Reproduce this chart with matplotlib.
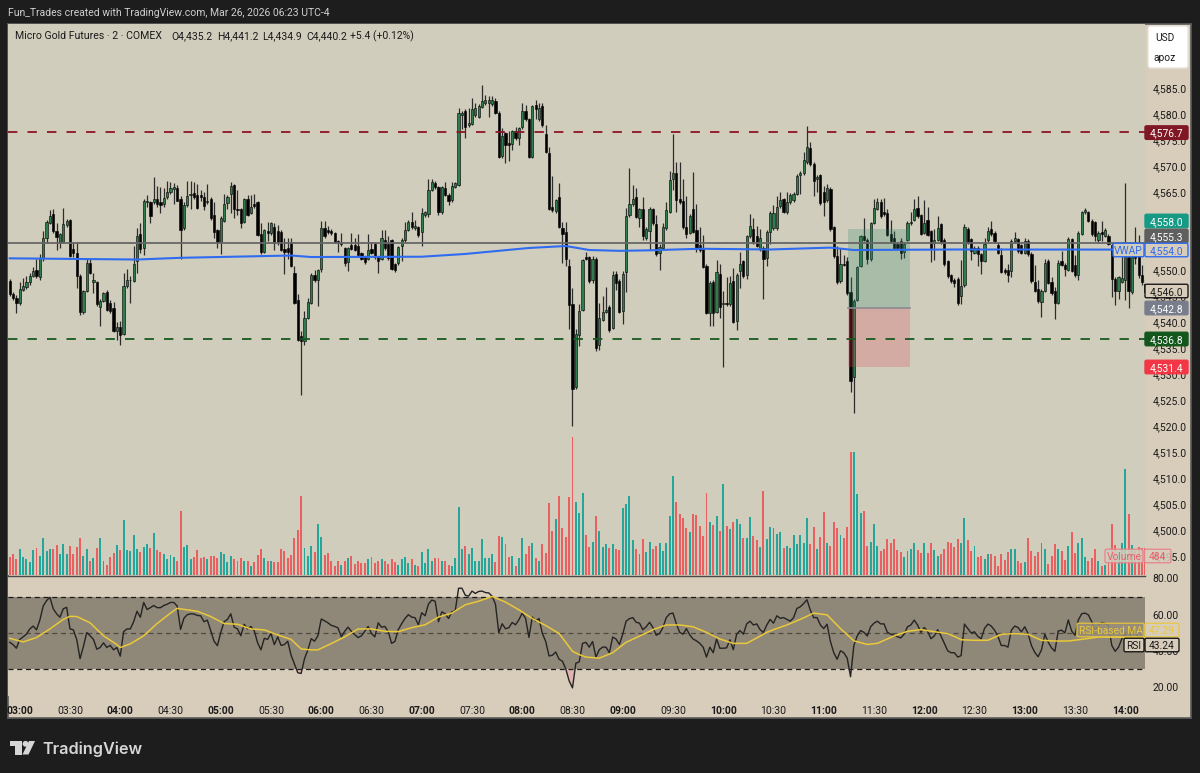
import numpy as np
import matplotlib
matplotlib.use("Agg")
import matplotlib.pyplot as plt
from matplotlib.patches import FancyBboxPatch, Polygon, Circle

plt.rcParams["font.family"] = ["Roboto", "DejaVu Sans"]

# Candle values, two minute bars
opens = [
    4547.7,4545.2,4544.5,4543.5,4546.0,4546.6,4547.6,4548.6,4549.9,4548.5,
    4552.1,4556.0,4558.9,4560.6,4557.3,4555.2,4555.2,4558.4,4559.4,4553.8,
    4553.0,4548.6,4541.7,4545.8,4551.2,4547.6,4547.5,4542.7,4543.9,4545.6,
    4543.5,4542.6,4538.1,4538.8,4537.6,4546.7,4547.8,4547.7,4551.6,4556.7,
    4554.0,4562.8,4562.8,4562.8,4563.5,4562.8,4562.5,4563.8,4564.9,4565.4,
    4565.5,4563.5,4557.8,4562.3,4564.2,4564.7,4564.2,4564.2,4563.8,4562.8,
    4563.4,4560.4,4557.5,4555.2,4559.2,4562.7,4564.5,4566.1,4561.6,4561.5,
    4559.1,4563.5,4560.8,4562.5,4562.8,4556.7,4553.2,4557.3,4556.9,4558.1,
    4557.3,4557.1,4553.8,4554.0,4555.0,4549.3,4544.0,4537.1,4536.1,4540.6,
    4543.5,4548.9,4547.9,4550.1,4557.9,4557.5,4557.4,4556.9,4555.4,4554.8,
    4554.0,4551.3,4554.7,4554.7,4554.4,4553.0,4552.3,4552.0,4553.9,4554.8,
    4552.3,4552.0,4555.5,4554.8,4555.5,4551.0,4551.1,4554.4,4555.5,4557.6,
    4559.1,4557.8,4558.0,4557.1,4560.4,4560.5,4565.2,4566.6,4565.8,4560.9,
    4565.5,4564.3,4563.2,4565.8,4566.2,4579.6,4580.4,4577.7,4577.9,4579.6,
    4579.2,4581.1,4581.9,4581.9,4581.7,4582.3,4580.0,4571.7,4576.1,4574.2,
    4574.0,4576.5,4575.2,4577.3,4580.3,4578.8,4571.6,4581.5,4578.8,4581.3,
    4575.9,4572.3,4562.0,4561.1,4563.9,4557.8,4557.2,4550.6,4543.3,4527.3,
    4537.4,4542.2,4552.3,4552.3,4547.9,4552.0,4535.4,4540.2,4541.8,4542.7,
    4538.7,4549.1,4547.7,4542.0,4549.4,4560.3,4562.5,4563.8,4559.8,4561.5,
    4555.9,4557.3,4561.5,4558.6,4553.0,4554.1,4557.9,4561.0,4567.3,4568.4,
    4563.4,4563.0,4558.0,4557.0,4561.6,4557.5,4554.6,4553.8,4550.6,4541.6,
    4547.5,4541.8,4549.1,4543.2,4543.4,4543.2,4547.7,4540.1,4549.6,4551.5,
    4548.8,4556.3,4557.7,4556.3,4553.8,4554.1,4552.2,4557.2,4557.9,4557.9,
    4562.1,4563.4,4560.9,4562.9,4563.2,4564.5,4568.0,4568.4,4570.5,4573.2,
    4570.2,4567.3,4568.0,4564.8,4563.2,4565.4,4558.0,4552.5,4547.7,4551.0,
    4551.5,4545.6,4529.2,4544.1,4550.6,4556.3,4555.6,4552.0,4558.9,4561.6,
    4562.9,4561.0,4560.8,4556.8,4555.9,4554.8,4555.3,4553.2,4555.6,4558.8,
    4559.5,4561.8,4560.3,4557.0,4559.5,4557.3,4555.0,4555.6,4558.6,4555.6,
    4551.5,4548.8,4547.9,4548.1,4544.8,4546.9,4557.7,4555.7,4553.1,4554.1,
    4552.8,4551.6,4555.5,4557.7,4557.0,4554.7,4552.7,4549.9,4549.9,4549.7,
    4555.3,4555.7,4554.6,4553.1,4555.4,4552.9,4547.6,4546.1,4543.7,4545.8,
    4551.5,4547.6,4545.8,4543.5,4551.5,4550.8,4549.9,4555.7,4550.8,4548.9,
    4556.8,4560.9,4560.9,4559.3,4559.0,4555.5,4557.2,4556.4,4556.4,4554.7,
    4548.1,4545.8,4547.6,4547.9,4552.3,4545.5,4552.5,4553.7,4548.8,4547.2,
]
closes = [
    4545.2,4544.5,4543.5,4546.1,4546.7,4547.6,4548.7,4549.6,4548.6,4552.1,
    4556.0,4559.1,4560.2,4557.3,4556.2,4556.7,4558.6,4559.3,4552.5,4553.1,
    4548.7,4541.7,4545.8,4551.2,4549.3,4547.8,4543.2,4543.9,4545.4,4542.2,
    4541.9,4538.1,4538.8,4537.4,4546.7,4547.8,4547.9,4551.0,4556.4,4553.9,
    4563.1,4563.1,4560.2,4563.5,4562.5,4562.3,4563.6,4564.9,4565.5,4565.7,
    4563.1,4557.5,4562.3,4564.0,4564.5,4563.8,4561.8,4563.8,4562.1,4563.1,
    4559.8,4557.1,4555.2,4559.8,4562.5,4563.8,4565.9,4561.6,4561.3,4558.9,
    4563.4,4560.4,4561.9,4562.1,4556.6,4553.2,4557.5,4556.9,4558.8,4555.0,
    4555.2,4553.7,4553.3,4553.3,4550.6,4543.5,4536.4,4536.1,4540.6,4543.7,
    4548.9,4547.9,4549.8,4557.9,4556.4,4557.1,4556.9,4555.2,4555.0,4555.0,
    4551.2,4554.0,4553.9,4553.7,4552.7,4552.0,4551.4,4553.7,4553.0,4552.3,
    4551.6,4555.9,4554.0,4552.1,4550.0,4549.8,4554.2,4555.5,4557.6,4559.1,
    4558.0,4558.2,4556.5,4560.7,4560.9,4565.2,4566.8,4565.7,4560.9,4565.7,
    4564.2,4563.0,4566.0,4566.5,4580.0,4580.1,4577.4,4578.0,4580.7,4581.0,
    4581.3,4582.3,4582.5,4582.5,4582.5,4580.0,4571.6,4575.6,4573.9,4573.9,
    4576.5,4575.2,4577.1,4580.3,4578.8,4571.6,4581.3,4580.7,4581.0,4577.7,
    4572.6,4561.6,4561.3,4563.2,4558.1,4556.8,4552.0,4543.0,4526.9,4537.5,
    4542.0,4551.8,4552.0,4547.7,4552.0,4534.9,4540.6,4541.8,4542.2,4538.2,
    4548.9,4547.3,4541.8,4549.1,4560.2,4562.5,4563.4,4560.0,4561.5,4556.3,
    4557.7,4561.5,4558.8,4552.9,4554.3,4558.0,4561.3,4567.2,4568.5,4563.2,
    4562.9,4558.0,4556.8,4560.2,4557.2,4554.1,4553.6,4550.4,4541.6,4547.4,
    4541.6,4549.5,4542.7,4543.4,4543.2,4547.4,4539.9,4548.9,4551.0,4548.6,
    4556.3,4558.2,4555.2,4554.5,4556.0,4552.0,4557.2,4560.8,4560.8,4562.0,
    4563.2,4561.0,4562.9,4564.3,4564.5,4567.9,4568.4,4571.0,4573.4,4570.2,
    4567.0,4567.7,4562.7,4562.9,4565.5,4557.7,4552.5,4547.5,4551.0,4550.8,
    4545.3,4528.5,4543.9,4550.3,4556.3,4555.6,4552.0,4558.8,4561.8,4562.9,
    4560.2,4560.5,4556.6,4555.3,4554.1,4554.1,4553.0,4554.8,4558.8,4559.1,
    4561.6,4560.2,4556.8,4558.9,4556.6,4554.1,4555.6,4557.9,4555.2,4550.9,
    4548.6,4547.7,4547.3,4543.4,4546.8,4558.0,4555.1,4553.4,4554.1,4552.8,
    4551.6,4554.9,4557.4,4556.7,4555.4,4553.1,4549.5,4549.4,4548.8,4555.4,
    4555.9,4553.4,4553.1,4555.4,4552.8,4547.7,4545.8,4543.8,4545.8,4551.2,
    4547.4,4545.3,4543.5,4551.2,4550.8,4550.0,4555.7,4549.7,4548.8,4557.0,
    4560.9,4561.4,4559.3,4556.7,4556.4,4557.0,4556.8,4557.5,4554.9,4548.1,
    4545.8,4548.4,4548.2,4552.3,4545.8,4552.3,4552.2,4548.8,4547.5,4545.6,
]
highs = [
    4548.0,4545.5,4545.0,4547.6,4548.3,4548.6,4549.3,4550.3,4552.0,4552.8,
    4557.4,4559.4,4561.3,4561.5,4558.8,4557.0,4561.8,4559.6,4559.6,4555.2,
    4555.2,4549.0,4546.0,4551.9,4551.9,4549.3,4547.7,4544.3,4545.6,4546.0,
    4544.0,4543.7,4539.9,4540.1,4549.3,4550.0,4548.6,4554.4,4557.9,4558.8,
    4563.4,4564.2,4563.0,4567.7,4565.9,4565.7,4565.5,4566.9,4566.7,4566.5,
    4566.2,4564.0,4562.8,4566.9,4566.9,4566.7,4566.4,4565.2,4564.8,4566.3,
    4563.8,4562.8,4557.7,4560.2,4564.5,4564.2,4566.7,4566.4,4565.2,4561.8,
    4563.7,4564.3,4564.2,4564.5,4563.0,4558.8,4557.7,4559.1,4559.1,4558.8,
    4558.4,4557.5,4556.0,4556.0,4556.0,4550.5,4545.2,4538.0,4542.0,4544.4,
    4549.2,4549.8,4550.0,4559.3,4559.3,4558.2,4557.7,4557.2,4555.6,4556.9,
    4554.3,4554.3,4556.9,4556.0,4556.7,4553.3,4552.6,4556.7,4555.2,4555.2,
    4552.6,4557.5,4557.5,4556.3,4555.8,4551.2,4554.5,4556.0,4559.0,4559.4,
    4560.9,4559.4,4558.3,4561.7,4561.2,4567.4,4567.4,4567.0,4566.0,4566.0,
    4566.8,4564.6,4566.8,4566.8,4581.0,4580.4,4580.7,4581.0,4582.8,4581.9,
    4581.7,4585.3,4583.4,4583.3,4583.3,4582.8,4580.3,4577.1,4576.4,4576.5,
    4576.8,4577.3,4577.4,4581.9,4581.5,4579.0,4581.6,4582.5,4581.9,4581.9,
    4577.7,4573.5,4567.8,4563.5,4566.6,4559.0,4559.0,4552.0,4546.4,4538.5,
    4543.2,4552.0,4553.2,4552.6,4552.5,4552.3,4543.4,4544.9,4546.6,4543.0,
    4549.6,4549.6,4548.0,4549.6,4561.8,4569.5,4566.2,4565.5,4561.8,4563.9,
    4558.0,4562.0,4561.8,4560.3,4554.8,4558.8,4562.9,4568.9,4575.9,4570.5,
    4570.5,4567.3,4564.1,4560.5,4568.6,4562.5,4558.0,4556.6,4550.9,4547.7,
    4547.8,4551.8,4550.9,4545.8,4548.4,4548.6,4550.2,4549.2,4553.2,4551.8,
    4556.6,4560.5,4559.8,4558.2,4557.7,4554.4,4557.5,4561.1,4562.3,4564.1,
    4564.8,4563.7,4564.8,4564.6,4564.8,4568.2,4568.8,4572.5,4577.5,4574.5,
    4570.5,4568.0,4568.3,4566.0,4566.3,4565.7,4558.3,4554.5,4554.1,4552.7,
    4552.3,4548.4,4544.2,4550.6,4556.6,4559.8,4555.9,4559.1,4563.4,4563.6,
    4563.4,4563.6,4561.6,4559.5,4557.3,4555.1,4556.0,4555.1,4559.3,4560.9,
    4563.4,4564.1,4560.6,4563.2,4562.0,4557.6,4557.7,4560.2,4558.9,4555.9,
    4551.8,4549.1,4548.2,4548.4,4551.8,4558.7,4558.0,4556.0,4554.4,4554.4,
    4553.1,4556.0,4558.1,4559.2,4557.3,4555.0,4554.1,4550.2,4551.0,4555.7,
    4557.2,4556.0,4554.9,4556.0,4555.7,4553.2,4550.8,4547.9,4546.1,4552.0,
    4552.0,4548.5,4546.6,4551.8,4553.4,4551.1,4556.2,4556.0,4552.7,4557.3,
    4561.2,4561.8,4561.2,4559.6,4559.3,4557.3,4559.3,4557.9,4556.7,4555.0,
    4548.4,4548.7,4552.5,4566.5,4552.6,4552.6,4558.0,4556.5,4550.8,4548.0,
]
lows = [
    4544.9,4544.0,4541.5,4543.0,4545.8,4546.2,4547.0,4548.4,4548.3,4547.9,
    4551.6,4555.0,4558.6,4557.0,4553.7,4554.0,4555.0,4558.0,4552.3,4552.3,
    4546.4,4541.2,4541.4,4545.5,4549.0,4545.4,4542.9,4539.1,4543.6,4542.0,
    4541.6,4537.8,4536.4,4535.4,4537.4,4546.4,4543.5,4547.5,4549.3,4553.0,
    4552.7,4562.0,4558.8,4562.5,4562.0,4560.8,4562.0,4563.5,4564.5,4562.5,
    4563.0,4551.9,4557.5,4562.0,4561.5,4563.5,4561.5,4563.1,4561.3,4562.5,
    4559.5,4556.0,4554.1,4552.8,4559.0,4561.5,4560.8,4559.8,4560.4,4557.9,
    4558.8,4560.2,4560.5,4561.8,4556.4,4552.8,4553.0,4555.4,4556.6,4553.7,
    4554.7,4553.5,4549.1,4552.0,4550.4,4543.3,4536.2,4525.8,4535.4,4540.3,
    4543.2,4547.6,4542.8,4549.4,4556.0,4556.8,4556.5,4555.0,4553.3,4554.5,
    4550.5,4549.6,4553.6,4553.4,4552.4,4551.7,4551.0,4551.7,4552.8,4552.0,
    4549.3,4551.7,4553.7,4551.8,4549.8,4549.5,4550.8,4551.5,4555.2,4557.3,
    4557.7,4557.5,4556.2,4554.4,4560.0,4560.1,4565.0,4565.4,4560.4,4560.6,
    4564.0,4562.4,4562.9,4565.5,4566.0,4576.9,4575.2,4577.4,4577.7,4579.3,
    4579.0,4580.9,4581.6,4579.2,4581.4,4579.8,4571.4,4571.4,4570.4,4570.8,
    4572.9,4574.9,4573.9,4577.0,4578.5,4571.4,4571.4,4578.8,4578.5,4577.4,
    4572.3,4561.3,4560.9,4560.8,4557.8,4551.2,4550.6,4538.4,4519.8,4527.0,
    4535.2,4542.0,4551.7,4547.4,4547.4,4534.2,4534.5,4540.0,4541.5,4537.9,
    4538.4,4545.9,4541.5,4539.5,4545.6,4560.0,4562.2,4559.8,4558.0,4555.6,
    4555.6,4553.6,4558.5,4552.5,4549.8,4553.8,4557.6,4560.8,4565.2,4560.9,
    4562.6,4557.7,4556.0,4556.7,4557.0,4553.2,4553.3,4550.2,4541.3,4539.1,
    4539.1,4541.5,4540.6,4531.1,4542.9,4542.9,4539.6,4538.2,4546.3,4548.3,
    4548.1,4556.0,4554.9,4554.2,4553.5,4544.3,4550.6,4554.8,4557.6,4557.6,
    4561.8,4560.8,4560.6,4562.6,4562.9,4564.2,4564.5,4568.1,4570.2,4569.9,
    4564.1,4564.8,4562.4,4560.2,4562.9,4557.4,4552.2,4547.2,4547.4,4550.5,
    4545.0,4526.3,4522.4,4543.8,4550.3,4555.3,4550.9,4551.5,4558.6,4561.3,
    4559.9,4560.2,4556.3,4555.0,4553.8,4553.8,4552.0,4552.2,4555.3,4558.5,
    4559.2,4559.9,4556.5,4556.7,4556.3,4551.3,4551.8,4555.3,4554.9,4550.6,
    4548.3,4547.4,4546.6,4543.1,4543.3,4546.6,4554.8,4551.8,4552.8,4550.5,
    4549.0,4551.3,4555.2,4556.4,4555.1,4552.8,4549.2,4549.1,4547.6,4548.4,
    4555.0,4553.1,4552.8,4552.8,4552.5,4547.4,4545.5,4543.5,4540.7,4545.5,
    4547.1,4545.0,4540.4,4543.2,4550.5,4548.6,4549.6,4549.4,4548.5,4547.9,
    4556.5,4560.6,4559.0,4556.4,4555.3,4555.1,4555.4,4556.1,4554.6,4544.6,
    4543.0,4544.3,4547.3,4544.0,4542.5,4545.2,4551.0,4548.2,4546.9,4545.3,
]
volumes = [
    330,370,280,470,330,280,230,450,490,340,
    660,440,470,470,540,370,550,380,520,370,
    500,660,350,460,250,300,490,670,260,180,
    320,400,540,450,990,450,430,720,470,420,
    500,550,490,760,450,410,380,280,360,330,
    250,1160,500,540,280,330,450,300,330,280,
    340,340,310,420,370,230,350,280,260,300,
    250,250,170,230,360,470,300,250,260,230,
    230,470,440,300,360,660,810,1420,490,340,
    520,420,910,690,360,390,250,170,260,180,
    250,310,350,200,260,210,210,280,320,220,
    260,280,260,190,280,230,180,280,320,210,
    290,180,160,410,210,470,250,300,300,250,
    260,180,160,300,1230,470,520,380,480,260,
    250,640,310,300,370,230,710,680,560,330,
    340,170,300,670,370,520,580,300,260,560,
    400,1290,790,1010,1430,840,680,1400,2490,1310,
    1110,1470,720,500,600,1070,800,500,550,490,
    550,470,450,1200,1280,1420,630,470,370,650,
    410,600,470,520,580,430,580,1070,1780,1310,
    1100,1030,850,780,1100,1080,880,700,1470,950,
    900,1070,800,1640,890,820,950,1010,920,670,
    670,1040,700,630,500,1510,650,870,850,730,
    770,490,530,490,720,550,720,570,1030,550,
    870,470,690,1130,570,530,950,850,720,670,
    870,2220,2220,1460,1110,1150,530,590,920,530,
    430,460,640,570,640,450,410,330,430,460,
    570,450,390,570,390,570,450,350,370,470,
    590,570,510,640,580,1020,630,430,520,320,
    350,290,380,370,340,170,370,270,410,470,
    470,250,220,230,670,430,340,410,570,460,
    200,350,550,470,430,270,520,770,400,570,
    670,320,260,300,470,260,170,180,300,910,
    540,410,570,1900,1090,540,440,500,480,484,
]
rsi = [
    44.6,43.3,41.3,46.2,47.6,49.1,52.0,53.6,51.5,56.9,
    64.7,67.7,69.6,63.2,60.4,58.5,63.2,64.0,52.0,51.5,
    46.2,35.5,42.3,50.0,48.2,46.2,40.8,41.7,44.3,41.7,
    42.9,40.4,41.7,36.9,50.5,52.0,52.0,56.0,61.8,58.5,
    66.7,62.8,63.8,65.0,63.8,63.8,65.0,65.7,66.7,66.7,
    64.7,51.7,57.9,59.9,60.4,60.3,59.5,59.3,56.0,56.9,
    51.0,45.2,42.7,50.0,56.0,57.3,60.4,53.0,52.0,48.2,
    54.6,52.0,53.4,51.0,44.3,40.4,46.8,46.2,49.5,43.3,
    47.6,42.9,43.3,45.2,37.4,32.6,27.7,27.3,35.5,40.4,
    46.6,45.2,48.2,57.5,56.5,55.4,54.0,53.4,52.6,47.6,
    50.7,53.0,50.7,48.8,47.2,48.2,50.7,53.4,49.5,47.6,
    55.4,53.0,53.4,50.5,44.0,45.1,51.6,54.9,57.8,59.9,
    58.6,58.2,54.3,61.0,59.3,65.8,68.0,67.4,56.0,61.5,
    60.4,57.8,61.5,62.1,74.6,74.6,70.7,70.2,73.0,71.7,
    72.8,73.0,72.2,72.0,70.2,65.8,49.9,54.9,52.1,52.7,
    55.6,54.3,57.1,60.8,57.8,47.3,58.6,56.4,57.8,49.5,
    45.1,37.0,37.4,39.2,35.2,34.1,29.8,23.2,19.3,33.0,
    33.7,44.0,44.6,41.9,45.0,36.4,40.5,41.9,41.9,38.8,
    47.5,46.4,43.4,49.1,56.3,57.7,58.3,55.7,55.2,51.6,
    53.2,55.7,52.8,48.5,49.5,52.8,58.3,60.4,60.8,54.8,
    50.1,49.1,52.2,48.7,46.4,45.4,44.0,41.9,36.4,41.9,
    38.8,46.4,41.3,41.3,41.5,46.0,40.5,49.1,51.1,49.1,
    54.8,56.3,54.2,54.8,51.6,50.1,54.2,57.3,55.2,59.3,
    57.9,58.3,57.3,56.3,58.3,63.4,64.3,66.1,68.2,62.4,
    58.3,58.3,54.2,52.2,54.6,45.0,38.8,35.2,39.9,38.8,
    35.8,25.5,42.9,48.1,51.1,50.1,48.1,53.2,55.2,56.3,
    54.8,54.8,50.1,49.1,48.5,47.7,47.0,49.1,53.2,54.2,
    56.9,54.2,50.1,52.8,50.7,46.6,48.1,51.6,48.1,44.0,
    39.9,38.8,38.8,36.4,37.2,54.7,52.3,49.8,50.4,47.9,
    46.6,52.3,54.7,53.6,51.3,47.9,42.8,42.8,41.9,51.3,
    53.6,52.8,50.4,53.2,49.4,42.8,39.0,36.6,40.4,49.0,
    44.7,41.5,39.6,50.9,51.3,49.8,57.0,50.9,48.5,57.0,
    60.4,60.8,59.8,56.0,51.3,54.1,55.5,55.1,54.1,42.8,
    39.6,41.9,46.6,50.0,45.0,52.0,50.0,47.0,44.0,43.24,
]

# RSI moving average and VWAP, read at these bars
ma_bars = [0,4,8,12,16,18,20,24,28,32,33,36,40,44,48,50,56,60,64,68,72,76,80,84,87,90,92,96,100,104,108,112,
           116,120,124,128,132,136,140,144,148,152,156,160,164,168,170,172,176,180,184,188,192,196,200,204,208,
           212,216,220,224,226,228,232,236,240,244,248,252,256,259,264,268,272,276,280,283,284,288,292,296,300,
           304,308,312,316,319,325,339]
ma_values = [46.8,44.8,47.2,52.0,57.3,59.0,58.9,55.4,48.2,43.3,41.7,43.7,48.2,55.0,60.8,63.4,61.8,58.9,55.0,54.6,
             52.0,51.5,48.7,46.2,40.9,40.4,40.4,43.9,47.6,52.0,52.0,50.7,
             50.5,52.7,54.3,58.6,60.8,65.4,67.4,70.0,66.9,62.6,57.8,53.9,49.5,39.6,37.8,36.4,35.8,38.8,44.6,48.0,
             51.6,54.2,54.2,53.2,50.1,46.4,44.0,44.0,48.0,50.1,51.6,54.2,57.3,60.8,59.8,52.2,45.4,43.4,44.0,48.1,
             50.7,51.6,50.5,49.4,47.0,46.0,45.7,45.7,49.0,49.4,49.0,45.7,45.3,45.3,46.0,47.5,47.29]
vwap_bars = [0,38,51,84,90,123,136,155,166,173,182,191,206,227,245,252,283,329,339]
vwap_values = [4552.06,4551.83,4552.16,4552.6,4552.31,4552.37,4552.9,4554.05,4554.43,4553.66,4553.5,4553.6,4553.9,
               4553.76,4554.12,4553.66,4553.76,4553.74,4553.74]

# Level lines and long position box
level_red = 4576.7
level_green = 4536.8
level_grey = 4555.3
pos_target = 4558.0
pos_entry = 4542.8
pos_stop = 4531.4
pos_bars = (250.2, 268.8)

price_ticks = [4585, 4580, 4575, 4570, 4565, 4560, 4555, 4550, 4545, 4540, 4535, 4530, 4525,
               4520, 4515, 4510, 4505, 4500, 4495]
rsi_ticks = [80, 60, 40, 20]
time_bars = [3, 18, 33, 48, 63, 78, 93, 108, 123, 138, 153, 168, 183, 198, 213, 228, 243, 258, 273, 288, 303, 318, 333]
time_labels = ["03:00", "03:30", "04:00", "04:30", "05:00", "05:30", "06:00", "06:30", "07:00", "07:30", "08:00",
               "08:30", "09:00", "09:30", "10:00", "10:30", "11:00", "11:30", "12:00", "12:30", "13:00", "13:30",
               "14:00"]

FRAME = "#1d1d1d"
PANE = "#d1cdbd"
AXIS_BG = "#d8ccbb"
BAND = "#8f8778"
TEAL = "#26a69a"
RED = "#ea5f5f"
BULL = "#2f7d4e"
BLUE = "#2f6bf0"
YELLOW = "#e9c83a"
W, H = 1200, 773


def px_axes(fig, x0, y0, x1, y1, **kw):
    return fig.add_axes([x0 / W, 1 - y1 / H, (x1 - x0) / W, (y1 - y0) / H], **kw)


def tag(ax, x0, x1, yc, text, bg, fg, edge=None, h=13.5, alpha=1.0, size=7.4):
    ax.add_patch(FancyBboxPatch((x0, yc - h / 2), x1 - x0, h, boxstyle="round,pad=0,rounding_size=1.5",
                                fc=bg, ec=edge if edge else bg, lw=1.0, alpha=alpha, zorder=5))
    ax.text((x0 + x1) / 2, yc, text, color=fg, fontsize=size, ha="center", va="center_baseline", zorder=6)


fig = plt.figure(figsize=(12, 7.73), dpi=100, facecolor=FRAME)

# right price axis and bottom time axis share one backing
back = px_axes(fig, 8, 24, 1191, 718)
back.set_facecolor(AXIS_BG)
back.set_xticks([])
back.set_yticks([])
for s in back.spines.values():
    s.set_color("#5c5c5c")
    s.set_linewidth(1.2)

# main pane
ax = px_axes(fig, 8, 24, 1145, 575)
x = np.arange(len(closes))
o, c, h, l = map(np.array, (opens, closes, highs, lows))
cal = 0.25  # readings sit a quarter point under the axis labels
o, c, h, l = o + cal, c + cal, h + cal, l + cal
up = c >= o
ax.set_xlim(-0.507, 338.9)
ax.set_ylim(4576.7 - (575 - 131.5) / 5.2, 4576.7 + (131.5 - 24) / 5.2)

vol = ax.twinx()
vol.set_ylim(0, 551 * 18)
vol.set_zorder(1)
ax.set_zorder(2)
ax.patch.set_visible(False)
vol.patch.set_visible(True)
vol.patch.set_facecolor(PANE)
vol.bar(x, volumes, width=0.58, color=[TEAL if u else RED for u in up], linewidth=0)
vol.set_yticks([])
for s in vol.spines.values():
    s.set_visible(False)

ax.vlines(x, l, h, color="#2c2c2c", linewidth=0.9, zorder=3)
ax.bar(x, np.abs(c - o).clip(0.15), bottom=np.minimum(o, c), width=0.66,
       color=[BULL if u else "black" for u in up], edgecolor="black", linewidth=0.4, zorder=4)

ax.fill_between(pos_bars, pos_entry, pos_target, color="#2e8b6a", alpha=0.25, linewidth=0, zorder=5)
ax.fill_between(pos_bars, pos_stop, pos_entry, color="#dd4958", alpha=0.25, linewidth=0, zorder=5)
ax.plot(pos_bars, [pos_entry, pos_entry], color="#8b8a90", lw=1.2, zorder=5)

ax.axhline(level_red, color="#8e1526", lw=1.3, ls=(0, (5.2, 5.6)), zorder=6)
ax.axhline(level_green, color="#17591f", lw=1.3, ls=(0, (5.2, 5.6)), zorder=6)
ax.axhline(level_grey, color="#666666", lw=1.3, zorder=6)
ax.plot(vwap_bars, np.array(vwap_values) + cal, color=BLUE, lw=1.5, zorder=6)

ax.yaxis.tick_right()
ax.set_yticks(price_ticks)
ax.set_yticklabels([f"{p:,.1f}" for p in price_ticks], fontsize=7.5, color="#1a1a1a")
ax.tick_params(axis="y", length=0, pad=5.5)
ax.set_xticks([])
for s in ax.spines.values():
    s.set_visible(False)

# rsi pane
rax = px_axes(fig, 8, 576, 1145, 696)
rax.set_facecolor(AXIS_BG)
rax.set_xlim(ax.get_xlim())
rax.set_ylim(30 - 27.4 / 1.8025, 70 + 20.5 / 1.8025)
rax.axhspan(30, 70, color=BAND, linewidth=0)
rsi_arr = np.array(rsi)
rax.fill_between(x, rsi_arr, 30, where=rsi_arr < 30, interpolate=True, color="#e8a0a0", alpha=0.5, linewidth=0)
rax.axhline(70, color="#1a1a1a", lw=0.9, ls=(0, (4, 3)))
rax.axhline(30, color="#1a1a1a", lw=0.9, ls=(0, (4, 3)))
rax.axhline(50, color="#504a40", lw=0.9, ls=(0, (4, 3)))
rax.plot(x, rsi, color="#242424", lw=1.0)
rax.plot(ma_bars, ma_values, color=YELLOW, lw=1.1)
rax.yaxis.tick_right()
rax.set_yticks(rsi_ticks)
rax.set_yticklabels([f"{v:.2f}" for v in rsi_ticks], fontsize=7.5, color="#1a1a1a")
rax.tick_params(axis="y", length=0, pad=5.5)
rax.set_xticks(time_bars)
rax.set_xticklabels(time_labels, fontsize=7.5, color="#1a1a1a")
rax.tick_params(axis="x", length=0, pad=7)
for lab, txt in zip(rax.get_xticklabels(), time_labels):
    if txt.endswith(":00"):
        lab.set_fontweight("bold")
for s in rax.spines.values():
    s.set_visible(False)
rax.spines["top"].set_visible(True)
rax.spines["top"].set_color("#4a4a4a")
rax.spines["top"].set_linewidth(1.0)

# overlay in pixels for the tags and header text
ov = fig.add_axes([0, 0, 1, 1], zorder=10)
ov.set_xlim(0, W)
ov.set_ylim(H, 0)
ov.axis("off")

ov.text(8, 12, "Fun_Trades created with TradingView.com, Mar 26, 2026 06:23 UTC-4", color="#cfcfcf",
        fontsize=7.45, va="center_baseline")
ov.text(15, 35, "Micro Gold Futures · 2 · COMEX", color="#1a1a1a", fontsize=7.6, va="center_baseline")
for tx, s in zip((171, 217, 262, 306, 350), ("O4,435.2", "H4,441.2", "L4,434.9", "C4,440.2", "+5.4 (+0.12%)")):
    ov.text(tx, 35, s, color="#1a1a1a", fontsize=7.5, va="center_baseline")

ov.add_patch(FancyBboxPatch((1148, 26), 40, 42, boxstyle="round,pad=0,rounding_size=2.5", fc="white", ec="#e8e4da", lw=1))
ov.text(1164.5, 37, "USD", color="#1a1a1a", fontsize=7.3, ha="center", va="center_baseline")
ov.text(1164.5, 57, "apoz", color="#1a1a1a", fontsize=7.3, ha="center", va="center_baseline")

tag(ov, 1145, 1188, 132.6, "4,576.7", "#7f1724", "white")
tag(ov, 1145, 1188, 221, "4,558.0", "#169a85", "white")
tag(ov, 1145, 1188, 236, "4,555.3", "#5f5f5f", "white")
tag(ov, 1145, 1188, 250, "4,554.0", AXIS_BG, BLUE, edge=BLUE)
tag(ov, 1113, 1144, 250, "VWAP", PANE, BLUE, edge=BLUE)
tag(ov, 1145, 1188, 291, "4,546.0", AXIS_BG, "#1a1a1a", edge="#1a1a1a")
tag(ov, 1145, 1188, 308, "4,542.8", "#787d8c", "white")
tag(ov, 1145, 1188, 339, "4,536.8", "#14571c", "white")
tag(ov, 1145, 1188, 367, "4,531.4", "#f23645", "white")
tag(ov, 1105, 1143, 556, "Volume", PANE, "#e8606a", edge="#e8808a", alpha=0.85)
tag(ov, 1144.5, 1171, 556, "484", AXIS_BG, "#e8606a", edge="#e8808a", alpha=0.85)
tag(ov, 1077, 1144, 630, "RSI-based MA", "#9a8f78", YELLOW, edge=YELLOW, alpha=0.85)
tag(ov, 1145, 1179, 630, "47.29", AXIS_BG, YELLOW, edge=YELLOW, alpha=0.85)
tag(ov, 1124, 1144, 645, "RSI", AXIS_BG, "#1a1a1a", edge="#1a1a1a")
tag(ov, 1145, 1179, 645, "43.24", AXIS_BG, "#1a1a1a", edge="#1a1a1a")

# TradingView mark
LOGO = "#d6d6d6"
ov.add_patch(Polygon([(10, 741), (22, 741), (22, 754.5), (15, 754.5), (15, 746), (10, 746)], fc=LOGO, ec="none"))
ov.add_patch(Circle((25.5, 743.8), 2.9, fc=LOGO, ec="none"))
ov.add_patch(Polygon([(29, 741), (35, 741), (28.5, 754.5), (22.5, 754.5)], fc=LOGO, ec="none"))
ov.text(42, 748, "TradingView", color=LOGO, fontsize=11.7, fontweight="semibold", family="Inter", va="center_baseline")

fig.savefig("out.png", dpi=100, facecolor=FRAME)
